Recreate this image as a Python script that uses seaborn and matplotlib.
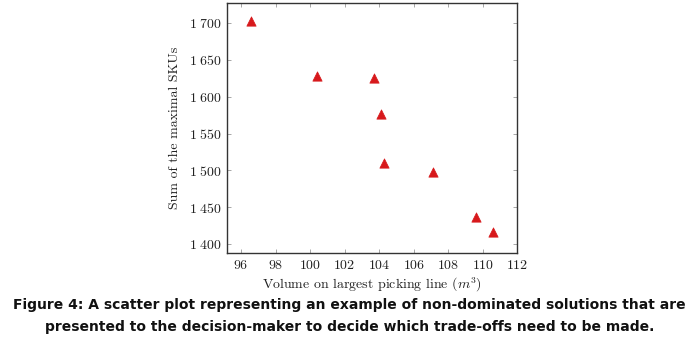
import matplotlib
matplotlib.use("Agg")
import matplotlib.pyplot as plt
import matplotlib.ticker as mticker
import seaborn as sns
import pandas as pd

sns.set_theme(style="white")
plt.rcParams['font.family'] = ['cmr10', 'DejaVu Serif']
plt.rcParams['mathtext.fontset'] = 'cm'
plt.rcParams['axes.formatter.use_mathtext'] = True

# non-dominated solutions
volume = [96.6, 100.4, 103.7, 104.1, 104.3, 107.1, 109.6, 110.6]
sum_skus = [1702, 1628, 1625, 1577, 1510, 1498, 1437, 1417]
x_ticks = [96, 98, 100, 102, 104, 106, 108, 110, 112]
y_ticks = [1400, 1450, 1500, 1550, 1600, 1650, 1700]

df = pd.DataFrame({'Volume': volume, 'SKUs': sum_skus})

fig = plt.figure(figsize=(6.99, 3.54), dpi=100)
ax = fig.add_axes([0.325, 0.285, 0.415, 0.7065])

sns.scatterplot(data=df, x='Volume', y='SKUs', marker='^', s=45,
                color='#d7191c', edgecolor='#d7191c', linewidth=0.5, ax=ax)

ax.set_xlim(95.2, 112)
ax.set_ylim(1388, 1727)
ax.set_xticks(x_ticks)
ax.set_yticks(y_ticks)
ax.yaxis.set_major_formatter(mticker.FuncFormatter(
    lambda v, p: r'$%d\;%03d$' % (int(v) // 1000, int(v) % 1000)))
ax.xaxis.set_major_formatter(mticker.FuncFormatter(lambda v, p: r'$%d$' % v))

ax.tick_params(direction='in', length=3, width=0.6, color='#999999',
               top=True, right=True, bottom=True, left=True,
               labelsize=10, labelcolor='#222222', pad=4)
for s in ax.spines.values():
    s.set_color('#333333')
    s.set_linewidth(1.0)

ax.set_xlabel(r'Volume on largest picking line ($m^3$)', fontsize=10,
              color='#222222', labelpad=3)
ax.set_ylabel('Sum of the maximal SKUs', fontsize=10, color='#222222', labelpad=6)

fig.text(0.5, 0.138, 'Figure 4: A scatter plot representing an example of non-dominated solutions that are',
         ha='center', va='center', fontsize=10, fontweight='bold',
         family=['DejaVu Sans'], color='#111111')
fig.text(0.5, 0.075, 'presented to the decision-maker to decide which trade-offs need to be made.',
         ha='center', va='center', fontsize=10, fontweight='bold',
         family=['DejaVu Sans'], color='#111111')

fig.savefig('out.png', dpi=100)
